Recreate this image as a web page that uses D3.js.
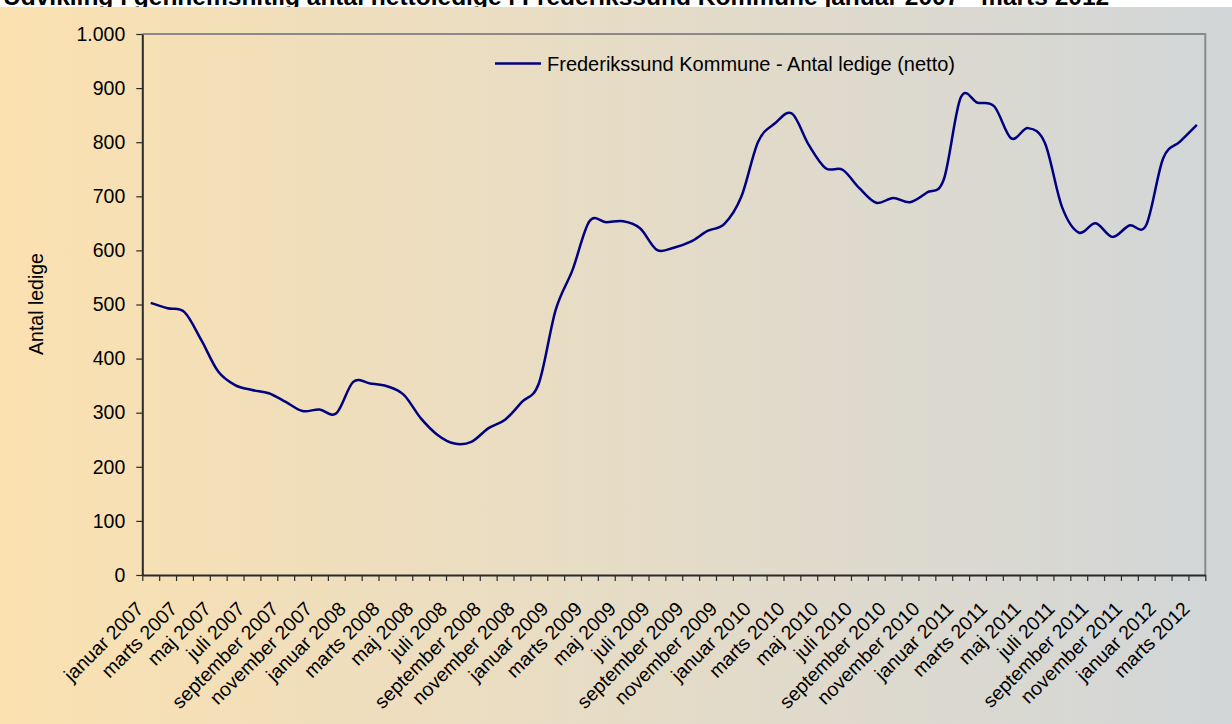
<!DOCTYPE html>
<html>
<head>
<meta charset="utf-8">
<script src="https://cdn.jsdelivr.net/npm/d3@7"></script>
<style>
  body { margin: 0; background: #fff; }
  svg { display: block; font-family: Arial, "Liberation Sans", sans-serif; }
</style>
</head>
<body>
<div id="chart"></div>
<script>
// tick labels: Danish month names, Jan 2007 - Mar 2012
const monthNames = ['januar','februar','marts','april','maj','juni','juli','august','september','oktober','november','december'];
const years = [2007, 2008, 2009, 2010, 2011, 2012];
const yTicks = [0, 100, 200, 300, 400, 500, 600, 700, 800, 900, 1000];

// antal ledige (netto), one value per month
const ledige = [
  503, 493, 486, 434, 376, 351, 342, 336, 320, 303, 306, 299,   // 2007
  357, 354, 349, 333, 290, 259, 243, 246, 271, 287, 320, 354,   // 2008
  490, 564, 654, 652, 654, 641, 601, 605, 616, 636, 649, 699,   // 2009
  801, 835, 853, 795, 752, 749, 715, 688, 697, 689, 707, 731,   // 2010
  882, 873, 866, 807, 826, 798, 681, 633, 650, 625, 646, 647,   // 2011
  770, 801, 832                                                  // 2012
];

const seriesName = 'Frederikssund Kommune - Antal ledige (netto)';
const chartTitle = 'Udvikling i gennemsnitlig antal nettoledige i Frederikssund Kommune januar 2007 - marts 2012';
const yAxisTitle = 'Antal ledige';

const months = [];
years.forEach((yr) => {
    monthNames.forEach((m) => {
        if (months.length < ledige.length) months.push(`${m} ${yr}`);
    });
});
const data = months.map((m, i) => ({ month: m, value: ledige[i] }));

const width = 1232, height = 724;
const plot = { left: 142.3, right: 1205.3, top: 34, bottom: 575 };

const svg = d3.select('#chart')
    .append('svg')
    .attr('width', width)
    .attr('height', height);

const defs = svg.append('defs');
const grad = defs.append('linearGradient')
    .attr('id', 'bg-grad')
    .attr('x1', '0%').attr('x2', '100%')
    .attr('y1', '0%').attr('y2', '0%');
grad.append('stop').attr('offset', '0%').attr('stop-color', '#fbe1b0');
grad.append('stop').attr('offset', '50%').attr('stop-color', '#e6dcc6');
grad.append('stop').attr('offset', '100%').attr('stop-color', '#d2d6d8');

// title sits above the chart area, mostly hidden behind it
const title = svg.append('text')
    .attr('x', 3)
    .attr('y', 5)
    .style('font-weight', 'bold')
    .style('font-size', '19px')
    .text(chartTitle);
const tw = title.node().getComputedTextLength();
title.style('font-size', (19 * 1107 / tw) + 'px');

svg.append('rect')
    .attr('x', 0)
    .attr('y', 7)
    .attr('width', width)
    .attr('height', height - 7)
    .attr('fill', 'url(#bg-grad)');

const x = d3.scaleBand()
    .domain(months)
    .range([plot.left, plot.right]);

const xEdges = d3.scaleLinear()
    .domain([0, months.length])
    .range([plot.left, plot.right]);

const y = d3.scaleLinear()
    .domain([0, 1000])
    .range([plot.bottom, plot.top]);

const dk = d3.formatLocale({ decimal: ',', thousands: '.', grouping: [3], currency: ['', ' kr'] });

// plot frame: top and right in grey
svg.append('path')
    .attr('d', `M${plot.left},${plot.top}H${plot.right}V${plot.bottom}`)
    .attr('fill', 'none')
    .attr('stroke', '#8a8a8a')
    .attr('stroke-width', 2);

const yAxisG = svg.append('g')
    .attr('class', 'axis y-axis')
    .attr('transform', `translate(${plot.left},0)`)
    .call(d3.axisLeft(y)
        .tickValues(yTicks)
        .tickFormat(dk.format(','))
        .tickSize(6)
        .tickSizeOuter(0)
        .tickPadding(11));

const xAxisG = svg.append('g')
    .attr('class', 'axis x-axis')
    .attr('transform', `translate(0,${plot.bottom})`)
    .call(d3.axisBottom(xEdges)
        .tickValues(d3.range(months.length + 1))
        .tickFormat('')
        .tickSize(6)
        .tickSizeOuter(0));

svg.selectAll('.axis .domain')
    .attr('stroke', '#2a2a2a')
    .attr('stroke-width', 2);
svg.selectAll('.axis .tick line')
    .attr('stroke', '#2a2a2a')
    .attr('stroke-width', 1.2);
yAxisG.selectAll('text')
    .style('font-size', '19.5px')
    .attr('fill', '#000');

// month labels, every second month, rotated
svg.append('g')
    .attr('class', 'x-labels')
    .selectAll('text')
    .data(months.filter((d, i) => i % 2 === 0))
    .join('text')
    .attr('transform', (d) => `translate(${x(d) + x.bandwidth() / 2 - 6},${plot.bottom + 35}) rotate(-45)`)
    .attr('text-anchor', 'end')
    .style('font-size', '19.5px')
    .attr('fill', '#000')
    .text((d) => d);

svg.append('text')
    .attr('transform', `translate(43,304) rotate(-90)`)
    .attr('text-anchor', 'middle')
    .style('font-size', '19.5px')
    .attr('fill', '#000')
    .text(yAxisTitle);

const line = d3.line()
    .x((d) => x(d.month) + x.bandwidth() / 2)
    .y((d) => y(d.value))
    .curve(d3.curveCatmullRom.alpha(0));

svg.append('path')
    .datum(data)
    .attr('fill', 'none')
    .attr('stroke', '#000080')
    .attr('stroke-width', 2.5)
    .attr('stroke-linejoin', 'round')
    .attr('d', line);

// legend
const legend = svg.append('g').attr('class', 'legend');
legend.append('line')
    .attr('x1', 495).attr('x2', 541)
    .attr('y1', 63.5).attr('y2', 63.5)
    .attr('stroke', '#000080')
    .attr('stroke-width', 2.5);
legend.append('text')
    .attr('x', 547)
    .attr('y', 71)
    .style('font-size', '20px')
    .attr('fill', '#000')
    .text(seriesName);
</script>
</body>
</html>
